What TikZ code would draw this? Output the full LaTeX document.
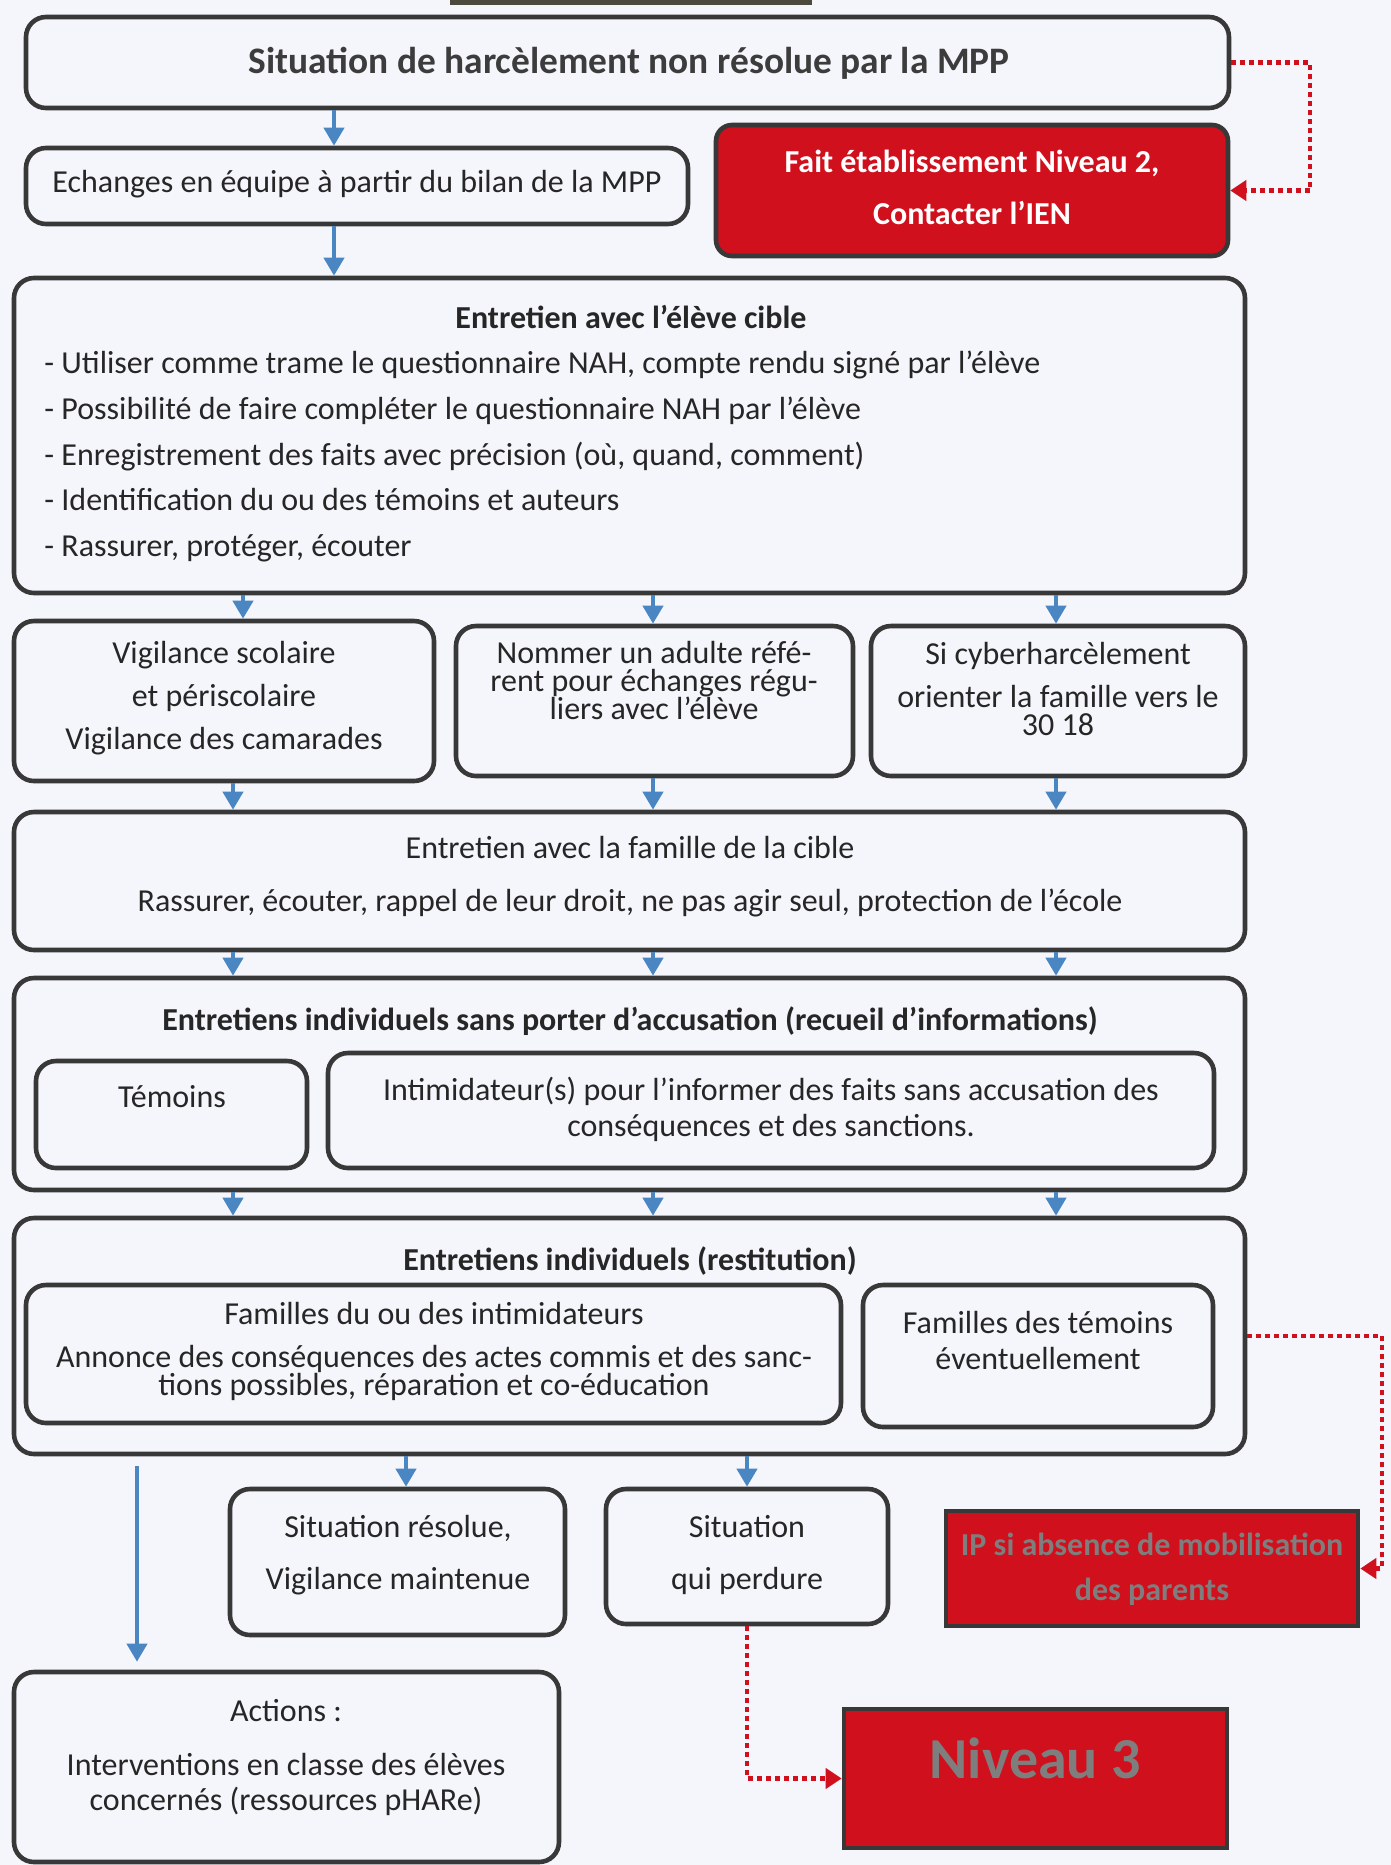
\documentclass[tikz,border=0pt]{standalone}
\usepackage{fontspec}
\setmainfont{Carlito}
\usetikzlibrary{arrows.meta}
\definecolor{edge}{HTML}{383838}
\definecolor{bl}{HTML}{4A86C2}
\definecolor{rd}{HTML}{D0101C}
\definecolor{bg}{HTML}{F4F6FB}
\definecolor{engr}{HTML}{7E7E7E}
\definecolor{ink}{HTML}{262626}
\definecolor{topbar}{HTML}{4B4A3C}
\newcommand\mkbox[6]{\node[#1, minimum width={(#5-#3)*0.5pt}, minimum height={(#6-#4)*0.5pt}] (#2) at ({(#3+#5)/2},{(#4+#6)/2}) {};}
\begin{document}
\begin{tikzpicture}[x=0.5pt,y=-0.5pt,
 box/.style={draw=edge, line width=2.3pt, rounded corners=10pt, inner sep=0pt},
 fbox/.style={draw=edge, line width=2.3pt, rounded corners=8pt, fill=rd, inner sep=0pt},
 redbox/.style={draw=edge, line width=2.3pt, fill=rd, inner sep=0pt},
 txt/.style={inner sep=0pt, anchor=mid, yshift=-3pt, text=ink, font=\fontsize{16}{19}\selectfont},
 ltxt/.style={txt, anchor=mid west},
 btxt/.style={txt, font=\fontsize{16}{19}\selectfont\bfseries},
 wtxt/.style={btxt, text=white},
 gtxt/.style={btxt, text=engr},
 barrow/.style={draw=bl, line width=2pt, -{Triangle[width=10pt,length=9pt]}},
 rdot/.style={draw=rd, line width=2.4pt, dash pattern=on 2.5pt off 2pt, -{Triangle[width=10pt,length=8pt]}},
]
\useasboundingbox (0,0) rectangle (1391,1865);
\fill[bg] (0,0) rectangle (1391,1865);
\fill[topbar] (450,0) rectangle (812,5);

% boxes
\mkbox{box}{top}{26}{17}{1229}{108}
\mkbox{box}{ech}{26}{148}{688}{224}
\mkbox{fbox}{fait}{716}{125}{1228}{256}
\mkbox{box}{eleve}{14}{278}{1245}{593}
\mkbox{box}{vA}{14}{621}{434}{781}
\mkbox{box}{vB}{456}{626}{853}{776}
\mkbox{box}{vC}{871}{626}{1245}{776}
\mkbox{box}{fam}{14}{812}{1245}{950}
\mkbox{box}{indiv}{14}{978}{1245}{1190}
\mkbox{box}{tem}{36}{1061}{307}{1168}
\mkbox{box}{intim}{328}{1053}{1214}{1168}
\mkbox{box}{rest}{14}{1218}{1245}{1454}
\mkbox{box}{famint}{26}{1285}{841}{1423}
\mkbox{box}{famtem}{863}{1285}{1213}{1427}
\mkbox{box}{res}{230}{1489}{565}{1635}
\mkbox{box}{perd}{606}{1489}{888}{1624}
\mkbox{redbox}{ip}{946}{1511}{1358}{1626}
\mkbox{box}{act}{14}{1672}{559}{1862}
\mkbox{redbox}{niv}{844}{1709}{1227}{1848}

% texts
\node[btxt, font=\fontsize{18.7}{22}\selectfont\bfseries, yshift=-3.5pt, text=ink!90] (t0) at (629,56) {Situation de harcèlement non résolue par la MPP};
\node[txt] (t1) at (357,182) {Echanges en équipe à partir du bilan de la MPP};
\node[wtxt] (t2a) at (972,162) {Fait établissement Niveau 2,};
\node[wtxt] (t2b) at (972,214) {Contacter l’IEN};
\node[btxt] (t3) at (631,318) {Entretien avec l’élève cible};
\node[ltxt] (t3a) at (44,363) {- Utiliser comme trame le questionnaire NAH, compte rendu signé par l’élève};
\node[ltxt] (t3b) at (44,409) {- Possibilité de faire compléter le questionnaire NAH par l’élève};
\node[ltxt] (t3c) at (44,455) {- Enregistrement des faits avec précision (où, quand, comment)};
\node[ltxt] (t3d) at (44,500) {- Identification du ou des témoins et auteurs};
\node[ltxt] (t3e) at (44,546) {- Rassurer, protéger, écouter};
\node[txt] (t4a) at (224,653) {Vigilance scolaire};
\node[txt] (t4b) at (224,696) {et périscolaire};
\node[txt] (t4c) at (224,739) {Vigilance des camarades};
\node[txt] (t5a) at (654,653) {Nommer un adulte réfé-};
\node[txt] (t5b) at (654,681) {rent pour échanges régu-};
\node[txt] (t5c) at (654,709) {liers avec l’élève};
\node[txt] (t6a) at (1058,654) {Si cyberharcèlement};
\node[txt] (t6b) at (1058,697) {orienter la famille vers le};
\node[txt] (t6c) at (1058,725) {30 18};
\node[txt] (t7a) at (630,848) {Entretien avec la famille de la cible};
\node[txt] (t7b) at (630,901) {Rassurer, écouter, rappel de leur droit, ne pas agir seul, protection de l’école};
\node[btxt] (t8) at (630,1020) {Entretiens individuels sans porter d’accusation (recueil d’informations)};
\node[txt] (t9) at (172,1097) {Témoins};
\node[txt] (t10a) at (771,1090) {Intimidateur(s) pour l’informer des faits sans accusation des};
\node[txt] (t10b) at (771,1126) {conséquences et des sanctions.};
\node[btxt] (t11) at (630,1260) {Entretiens individuels (restitution)};
\node[txt] (t12a) at (434,1314) {Familles du ou des intimidateurs};
\node[txt] (t12b) at (434,1357) {Annonce des conséquences des actes commis et des sanc-};
\node[txt] (t12c) at (434,1385) {tions possibles, réparation et co-éducation};
\node[txt] (t13a) at (1038,1323) {Familles des témoins};
\node[txt] (t13b) at (1038,1359) {éventuellement};
\node[txt] (t14a) at (398,1527) {Situation résolue,};
\node[txt] (t14b) at (398,1579) {Vigilance maintenue};
\node[txt] (t15a) at (747,1527) {Situation};
\node[txt] (t15b) at (747,1579) {qui perdure};
\node[gtxt] (t16a) at (1152,1545) {IP si absence de mobilisation};
\node[gtxt] (t16b) at (1152,1590) {des parents};
\node[txt] (t17a) at (286,1711) {Actions :};
\node[txt] (t17b) at (286,1765) {Interventions en classe des élèves};
\node[txt] (t17c) at (286,1800) {concernés (ressources pHARe)};
\node[gtxt, font=\fontsize{29}{33}\selectfont\bfseries, yshift=-4pt] (t18) at (1035,1760) {Niveau 3};

% x positions for arrows
\coordinate (xa) at (334,0);
\coordinate (xb) at (243,0);
\coordinate (xc) at (233,0);
\coordinate (xd) at (653,0);
\coordinate (xe) at (1056,0);
\coordinate (xf) at (406,0);
\coordinate (xg) at (747,0);
\coordinate (xh) at (137,0);
\coordinate (xr1) at (1310,0);
\coordinate (xr2) at (1382,0);

% blue arrows
\draw[barrow] (top.south -| xa) -- (ech.north -| xa);
\draw[barrow] (ech.south -| xa) -- (eleve.north -| xa);
\draw[barrow] (eleve.south -| xb) -- (vA.north -| xb);
\draw[barrow] (eleve.south -| xd) -- (vB.north -| xd);
\draw[barrow] (eleve.south -| xe) -- (vC.north -| xe);
\draw[barrow] (vA.south -| xc) -- (fam.north -| xc);
\draw[barrow] (vB.south -| xd) -- (fam.north -| xd);
\draw[barrow] (vC.south -| xe) -- (fam.north -| xe);
\draw[barrow] (fam.south -| xc) -- (indiv.north -| xc);
\draw[barrow] (fam.south -| xd) -- (indiv.north -| xd);
\draw[barrow] (fam.south -| xe) -- (indiv.north -| xe);
\draw[barrow] (indiv.south -| xc) -- (rest.north -| xc);
\draw[barrow] (indiv.south -| xd) -- (rest.north -| xd);
\draw[barrow] (indiv.south -| xe) -- (rest.north -| xe);
\draw[barrow] (rest.south -| xf) -- (res.north -| xf);
\draw[barrow] (rest.south -| xg) -- (perd.north -| xg);
\draw[barrow, shorten <=5pt, shorten >=4pt] (rest.south -| xh) -- (act.north -| xh);

% red dotted connectors
\draw[rdot] (top.east) -- (top.east -| xr1) |- (fait.east);
\draw[rdot] (rest.east) -- (rest.east -| xr2) |- (ip.east);
\draw[rdot] (perd.south) |- (niv.west);
\end{tikzpicture}
\end{document}
